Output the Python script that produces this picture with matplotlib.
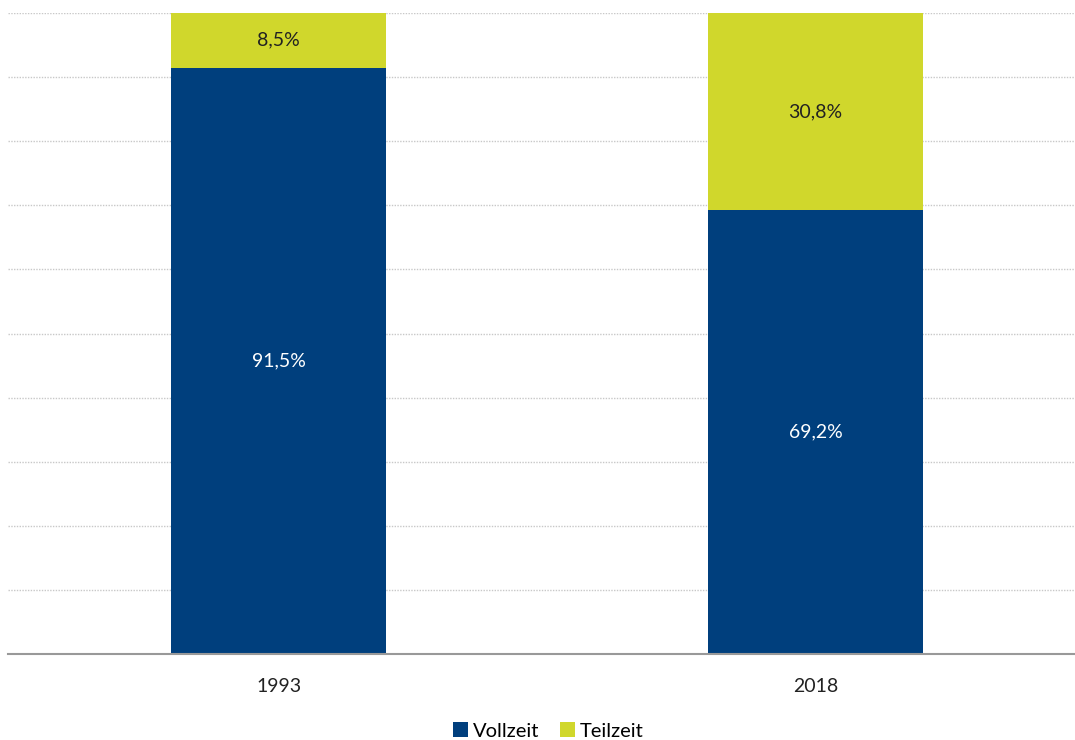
import matplotlib.pyplot as plt

plt.rcParams['font.family'] = ['Lato', 'DejaVu Sans']

jahre = ['1993', '2018']
vollzeit = [91.5, 69.2]
teilzeit = [8.5, 30.8]

farbe_voll = '#003f7d'
farbe_teil = '#d0d72c'

fig = plt.figure(figsize=(10.75, 7.4), dpi=100)
ax = fig.add_axes([0.0074, 0.1162, 0.9926, 0.8662])

x = range(len(jahre))
b1 = ax.bar(x, vollzeit, width=0.4, color=farbe_voll, label='Vollzeit', zorder=2)
b2 = ax.bar(x, teilzeit, width=0.4, bottom=vollzeit, color=farbe_teil, label='Teilzeit', zorder=2)

# Beschriftung in der Mitte der Segmente
for i in x:
    ax.text(i, vollzeit[i] / 2, f'{vollzeit[i]:.1f}%'.replace('.', ','),
            ha='center', va='center', color='white', fontsize=14)
    ax.text(i, vollzeit[i] + teilzeit[i] / 2, f'{teilzeit[i]:.1f}%'.replace('.', ','),
            ha='center', va='center', color='#222222', fontsize=14)

ax.set_xlim(-0.504, 1.483)
ax.set_ylim(0, 100)
ax.set_yticks(range(10, 101, 10))
ax.yaxis.grid(True, linestyle=(0, (1, 1)), color='#c8c8c8', linewidth=1, zorder=0)
ax.tick_params(axis='y', left=False, labelleft=False)
ax.tick_params(axis='x', bottom=False, labelsize=14, pad=14, labelcolor='#222222')
ax.set_xticks(list(x))
ax.set_xticklabels(jahre)

for s in ['top', 'right', 'left']:
    ax.spines[s].set_visible(False)
ax.spines['bottom'].set_color('#999999')
ax.spines['bottom'].set_linewidth(1.5)

fig.legend(handles=[b1, b2], loc='center', bbox_to_anchor=(0.51, 0.012), ncol=2,
           frameon=False, fontsize=14.5, handlelength=0.75, handleheight=0.75,
           handletextpad=0.25, columnspacing=1.0)

fig.savefig('out.png', dpi=100)
